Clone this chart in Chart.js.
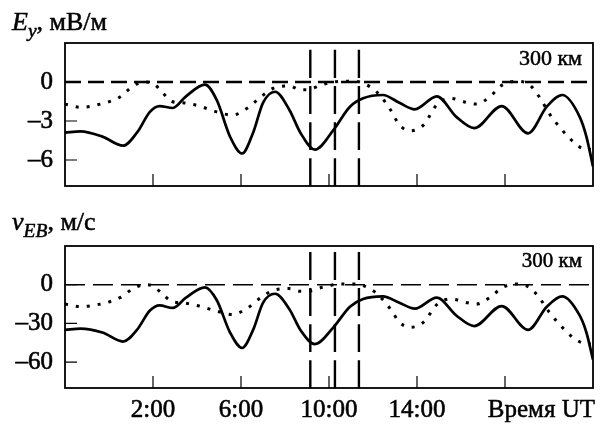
<!DOCTYPE html>
<html>
<head>
<meta charset="utf-8">
<script src="https://cdn.jsdelivr.net/npm/chart.js@4.4.0/dist/chart.umd.min.js"></script>
<style>
  body { margin: 0; background: #fff; }
  #wrap { position: relative; width: 600px; height: 425px; font-family: 'Liberation Serif', 'DejaVu Serif', serif; color: #000; }
  canvas { position: absolute; left: 0; }
  .txt { position: absolute; white-space: nowrap; line-height: 1; -webkit-text-stroke: 0.5px #000; }
  .txt sub { font-size: 0.75em; vertical-align: -0.36em; line-height: 0; }
</style>
</head>
<body>
<div id="wrap">
  <canvas id="top" width="600" height="205" style="top:0"></canvas>
  <canvas id="bottom" width="600" height="220" style="top:205px"></canvas>
  <div class="txt" style="left:12px; top:9px; font-size:26px"><i>E</i><sub><i>y</i></sub>, мВ/м</div>
  <div class="txt" style="left:12px; top:209px; font-size:26px"><i>v</i><sub><i>EB</i></sub>, м/с</div>
  <div class="txt" style="right:18px; top:47px; font-size:22px">300 км</div>
  <div class="txt" style="right:18px; top:250px; font-size:21px">300 км</div>
  <div class="txt" style="right:5px; top:396px; font-size:25px">Время UT</div>
</div>
<script>
// temps (heures UT)
const timeSolid = [-2, -1.3, -0.3, 0.64, 1.27, 1.86, 2.3, 2.9, 3.5, 4.36, 4.9, 5.5, 6.05, 6.55, 7.0, 7.55, 8.2, 8.7,
  9.36, 10.2, 10.95, 11.55, 12.45, 13.2, 13.9, 14.9, 15.8, 16.6, 17.85, 19.05, 19.9, 20.6, 21.4, 21.7, 22];
const timeDotted = [-2, -1.3, -0.4, 0.5, 1.1, 1.6, 2.0, 2.45, 2.86, 3.36, 4.1, 4.9, 5.6, 6.3, 6.9, 7.45, 8.2, 8.7,
  9.0, 9.7, 10.5, 11.2, 11.9, 12.3, 12.8, 13.2, 13.7, 14.3, 14.9, 15.5, 16.3, 16.7, 17.3, 17.9, 18.5, 19.1, 19.6,
  20.0, 20.6, 21.1, 21.5, 21.9];

// Ey, mV/m
const eySolid = [-3.9, -3.8, -4.2, -4.9, -3.9, -2.3, -1.85, -2.0, -1.1, -0.2, -1.4, -4.2, -5.5, -3.9, -1.6, -0.75, -2.15, -3.9,
  -5.2, -3.7, -1.9, -1.25, -1.0, -1.6, -2.1, -1.1, -2.7, -3.55, -1.85, -3.95, -1.9, -1.0, -2.7, -4.2, -6.5];
const eyDotted = [-1.7, -1.95, -1.7, -1.15, -0.3, 0, -0.1, -0.85, -1.5, -1.6, -1.85, -2.3, -2.55, -2.0, -1.15, -0.5, -0.3, -0.6,
  -0.6, -0.2, 0.05, 0.05, -0.4, -1.0, -2.15, -3.3, -3.75, -3.3, -1.75, -1.25, -1.6, -1.7, -1.15, -0.2, 0.05, -0.2, -1.25,
  -2.4, -3.7, -4.6, -5.1, -5.2];

// vEB, m/s
const vSolid = [-35, -34, -37, -44, -35, -20, -16, -18, -10, -2, -12, -37, -49, -35, -14, -7, -19, -35,
  -46, -33, -17, -11, -9, -14, -18.5, -10, -24, -32, -16.5, -35, -17, -9, -24, -37, -58];
const vDotted = [-15, -17, -15, -10, -3, 0, -1, -7.5, -13, -14, -16.5, -20.5, -23, -18, -10, -4.5, -3, -5,
  -5, -2, 0.5, 0.5, -3.5, -9, -19, -29, -33, -29, -15.5, -11, -14, -15, -10, -2, 0.5, -2, -11,
  -21, -33, -41, -45, -46];

// axes
const timeRange = [-2, 22];
const xTicks = [2, 6, 10, 14, 18];
const xTickLabels = ['2:00', '6:00', '10:00', '14:00', ''];
const eyRange = [-8, 3];
const eyTicks = [0, -3, -6];
const vRange = [-80, 30];
const vTicks = [0, -30, -60];
const markerTimes = [9.15, 10.27, 11.36];

const pts = (xs, ys) => xs.map((x, i) => ({ x: x, y: ys[i] }));

// cadre + graduations vers l'intérieur
const cadre = {
  id: 'cadre',
  afterDatasetsDraw(chart) {
    const { ctx, chartArea: a, scales } = chart;
    ctx.save();
    ctx.strokeStyle = '#000';
    ctx.lineWidth = 1.2;
    ctx.beginPath();
    xTicks.forEach(t => {
      const x = scales.x.getPixelForValue(t);
      ctx.moveTo(x, a.bottom);
      ctx.lineTo(x, a.bottom - 12);
    });
    scales.y.ticks.forEach(t => {
      const y = scales.y.getPixelForValue(t.value);
      ctx.moveTo(a.left, y);
      ctx.lineTo(a.left + 12, y);
    });
    ctx.stroke();
    ctx.lineWidth = 1.8;
    ctx.strokeRect(a.left, a.top, a.right - a.left, a.bottom - a.top);
    ctx.restore();
  }
};

function panneau(id, solid, dotted, yRange, yTicks, zero, xHeight, pad) {
  const datasets = [
    { data: pts(timeSolid, solid), borderColor: '#000', borderWidth: 2.7 },
    { data: pts(timeDotted, dotted), borderColor: '#000', borderWidth: 3, borderDash: [3, 8] },
    { data: pts(timeRange, [0, 0]), borderColor: '#000', borderWidth: zero.width, borderDash: zero.dash, tension: 0 }
  ];
  markerTimes.forEach(t => {
    datasets.push({ data: pts([t, t], yRange), borderColor: '#000', borderWidth: 2.4, borderDash: [28, 8], tension: 0 });
  });

  return new Chart(document.getElementById(id), {
    type: 'line',
    data: { datasets: datasets },
    options: {
      responsive: false,
      animation: false,
      layout: { padding: pad },
      elements: {
        point: { radius: 0 },
        line: { cubicInterpolationMode: 'monotone', fill: false, borderCapStyle: 'butt' }
      },
      plugins: { legend: { display: false }, tooltip: { enabled: false } },
      scales: {
        x: {
          type: 'linear',
          min: timeRange[0],
          max: timeRange[1],
          grid: { display: false, drawTicks: false },
          border: { display: false },
          afterBuildTicks: s => { s.ticks = xTicks.map(v => ({ value: v })); },
          afterFit: s => { s.height = xHeight; },
          ticks: {
            display: xHeight > 30,
            padding: 7,
            color: '#000',
            textStrokeColor: '#000',
            textStrokeWidth: 0.6,
            font: { family: "'Liberation Serif'", size: 25 },
            callback: v => xTickLabels[xTicks.indexOf(v)]
          }
        },
        y: {
          min: yRange[0],
          max: yRange[1],
          grid: { display: false, drawTicks: false },
          border: { display: false },
          afterBuildTicks: s => { s.ticks = yTicks.map(v => ({ value: v })); },
          afterFit: s => { s.width = 65; s.paddingTop = 0; s.paddingBottom = 0; },
          ticks: {
            padding: 12,
            color: '#000',
            textStrokeColor: '#000',
            textStrokeWidth: 0.6,
            font: { family: "'Liberation Serif'", size: 25 },
            callback: v => (v < 0 ? '–' + Math.abs(v) : String(v))
          }
        }
      }
    },
    plugins: [cadre]
  });
}

panneau('top', eySolid, eyDotted, eyRange, eyTicks, { width: 2.6, dash: [16, 7] }, 19,
  { left: 0, right: 7, top: 43, bottom: 0 });
panneau('bottom', vSolid, vDotted, vRange, vTicks, { width: 1.5, dash: [20, 8] }, 37,
  { left: 0, right: 7, top: 41, bottom: 0 });
</script>
</body>
</html>
